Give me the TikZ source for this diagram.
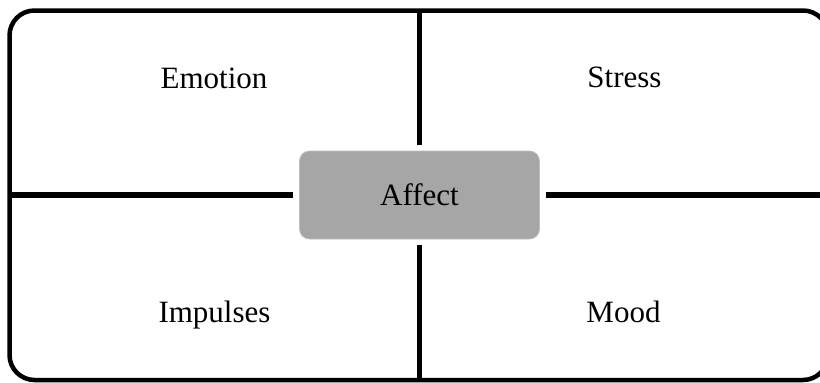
\documentclass[tikz,border=0pt]{standalone}
\usepackage{fontspec}
\setmainfont{Liberation Serif}
\begin{document}
\begin{tikzpicture}[x=1pt,y=-1pt,
  frame/.style={draw=black, line width=4.5pt, rounded corners=25pt},
  divider/.style={draw=black, line width=5.5pt, shorten >=6pt},
  corebox/.style={draw=black!25, line width=0.8pt, fill=black!35,
    rounded corners=10pt, minimum width=240pt, minimum height=88pt,
    inner sep=0pt},
  label/.style={anchor=base, font=\fontsize{31}{37}\selectfont}]
  \useasboundingbox (0,0) rectangle (820,383);
  \clip (0,0) rectangle (820,383);
  % outer rounded frame (right side runs past the page edge)
  \draw[frame] (9.5,10.5) rectangle (828,380);
  % central node
  \node[corebox] (aff) at (419.5,195) {};
  \node[label] (afftxt) at (419.5,205) {Affect};
  % frame contact points for the dividing lines
  \coordinate (top) at (419.5,10.5);
  \coordinate (bot) at (419.5,380);
  \coordinate (lft) at (9.5,195);
  \coordinate (rgt) at (828,195);
  \draw[divider] (top) -- (aff.north);
  \draw[divider] (bot) -- (aff.south);
  \draw[divider] (lft) -- (aff.west);
  \draw[divider] (rgt) -- (aff.east);
  % quadrant labels
  \node[label] (emo) at (214,88) {Emotion};
  \node[label] (str) at (624.5,87.5) {Stress};
  \node[label] (imp) at (214.5,322) {Impulses};
  \node[label] (moo) at (623.5,322) {Mood};
\end{tikzpicture}
\end{document}
